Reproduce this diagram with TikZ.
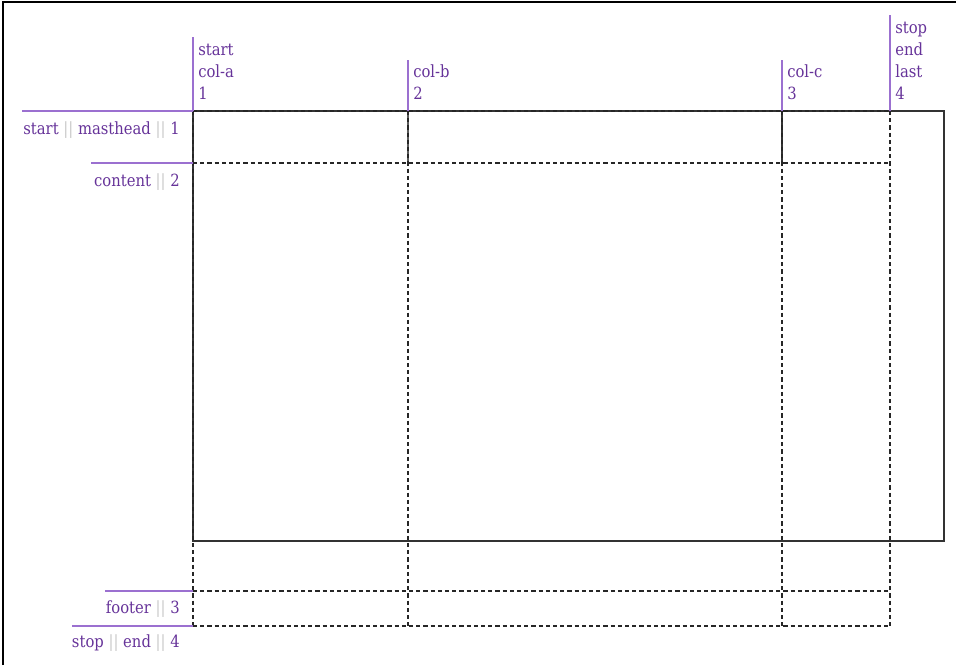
\documentclass[tikz,border=0pt]{standalone}
\usepackage{fontspec}
\setmainfont{DejaVu Serif}[FakeStretch=0.88]
\definecolor{txtpurple}{HTML}{663399}
\definecolor{linepurple}{HTML}{9B70D0}
\definecolor{barcol}{HTML}{C8C8C8}
\definecolor{rectcol}{HTML}{333333}
\newcommand{\sepbar}{\textcolor{barcol}{||}}
\begin{document}
\begin{tikzpicture}[x=0.75pt,y=-0.75pt,
  lbl/.style={text=txtpurple,inner sep=0pt,font=\fontsize{12.6}{15}\selectfont},
  toplbl/.style={lbl,anchor=base west},
  leftlbl/.style={lbl,anchor=base east},
  guide/.style={draw=linepurple,line width=1pt},
  gridline/.style={draw=black!85,dash pattern=on 3.2pt off 2.2pt,line width=0.85pt},
  boxline/.style={draw=rectcol,line width=1pt},
  frame/.style={draw=black,line width=1pt}]
\useasboundingbox (0,0) rectangle (956,665);
% frame (left and top edges visible)
\coordinate (f1) at (3,665);
\coordinate (f2) at (3,2);
\coordinate (f3) at (956,2);
\draw[frame] (f1) -- (f2) -- (f3);
% grid coordinates
\foreach \cx/\xv in {1/193,2/408,3/782,4/890}{
  \foreach \ry/\yv in {1/111,2/163,3/591,4/626}{
    \coordinate (g\cx\ry) at (\xv,\yv);
  }
}
% element box
\coordinate (bTL) at (193,111);
\coordinate (bBR) at (944,541);
\draw[boxline] (bTL) rectangle (bBR);
\draw[draw=rectcol!80,line width=1pt] (g21) -- (g22);
\draw[draw=rectcol,line width=1pt] (g31) -- (g32);
% dashed grid
\foreach \ry in {1,2,3,4}{ \draw[gridline] (g1\ry) -- (g4\ry); }
\foreach \cx in {1,2,3,4}{ \draw[gridline] (g\cx1) -- (g\cx4); }
% column guides
\coordinate (c1t) at (193,37);
\coordinate (c2t) at (408,60);
\coordinate (c3t) at (782,60);
\coordinate (c4t) at (890,15);
\draw[guide] (c1t) -- (g11);
\draw[guide] (c2t) -- (g21);
\draw[guide] (c3t) -- (g31);
\draw[guide] (c4t) -- (g41);
% row guides
\coordinate (r1l) at (22,111);
\coordinate (r2l) at (91,163);
\coordinate (r3l) at (105,591);
\coordinate (r4l) at (72,626);
\draw[guide] (r1l) -- (g11);
\draw[guide] (r2l) -- (g12);
\draw[guide] (r3l) -- (g13);
\draw[guide] (r4l) -- (g14);
% column labels
\node[toplbl] (a1) at (198,55) {start};
\node[toplbl] (a2) at (198,77) {col-a};
\node[toplbl] (a3) at (198,99) {1};
\node[toplbl] (b1) at (413,77) {col-b};
\node[toplbl] (b2) at (413,99) {2};
\node[toplbl] (k1) at (787,77) {col-c};
\node[toplbl] (k2) at (787,99) {3};
\node[toplbl] (d1) at (895,33) {stop};
\node[toplbl] (d2) at (895,55) {end};
\node[toplbl] (d3) at (895,77) {last};
\node[toplbl] (d4) at (895,99) {4};
% row labels
\node[leftlbl] (l1) at (180,134) {start \sepbar{} masthead \sepbar{} 1};
\node[leftlbl] (l2) at (180,186) {content \sepbar{} 2};
\node[leftlbl] (l3) at (180,613) {footer \sepbar{} 3};
\node[leftlbl] (l4) at (180,647) {stop \sepbar{} end \sepbar{} 4};
\end{tikzpicture}
\end{document}
